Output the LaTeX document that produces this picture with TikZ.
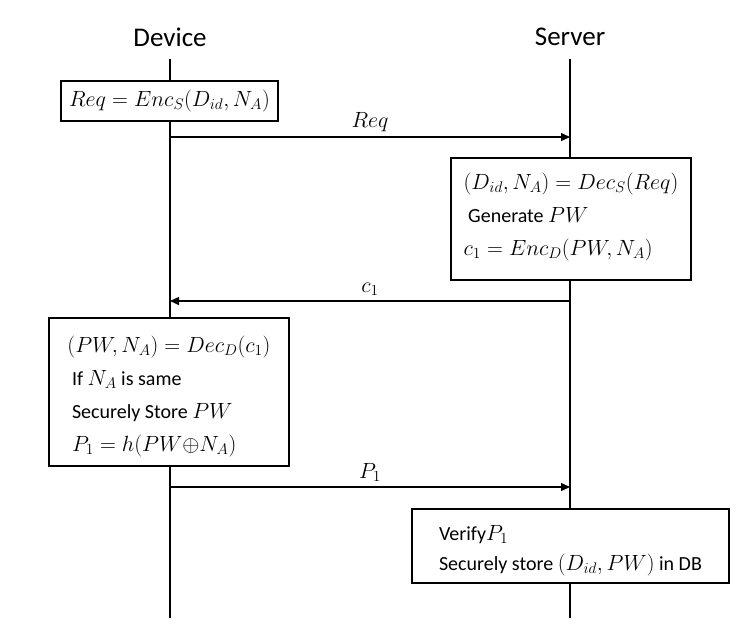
\RequirePackage{fix-cm}
\documentclass[tikz,border=0pt]{standalone}
\usepackage{fontspec}
\setmainfont{Carlito}
\usetikzlibrary{arrows.meta}
\newcommand\mth[1]{{\fontsize{22}{33}\selectfont$#1$}}
\begin{document}
\begin{tikzpicture}[x=1pt,y=-1pt,
  lifeline/.style={line width=2.6pt},
  msg/.style={line width=1.4pt,-{Triangle[length=9pt,width=8pt]}},
  stepbox/.style={draw,line width=1.2pt,fill=white,align=left,inner sep=0pt,font=\fontsize{20}{33}\selectfont},
  actor/.style={font=\fontsize{27}{30}\selectfont}]
\useasboundingbox (0,0) rectangle (749,638);
\node[actor] (dev) at (170,37) {Device};
\node[actor] (srv) at (570,37) {Server};
\coordinate (devtop) at (170,59); \coordinate (devbot) at (170,618);
\coordinate (srvtop) at (570,59); \coordinate (srvbot) at (570,618);
\draw[lifeline] (devtop) -- (devbot);
\draw[lifeline] (srvtop) -- (srvbot);
\node[stepbox,minimum width=217pt,minimum height=40pt] (encreq) at (169.5,101) {\mth{Req = Enc_S(D_{id},N_A)}};
\node[stepbox,minimum width=240pt,minimum height=122pt] (decreq) at (571,219) {\mth{(D_{id},N_A) = Dec_S(Req)}\\ \ Generate \mth{PW}\\ \mth{c_1 = Enc_D(PW,N_A)}\rule[-10pt]{0pt}{0pt}};
\node[stepbox,minimum width=240pt,minimum height=148pt] (decpw) at (169,392) {\rule{0pt}{25pt}\mth{(PW,N_A) = Dec_D(c_1)}\\ \ If \mth{N_A} is same\\ \ Securely Store \mth{PW}\\ \ \mth{P_1 = h(PW{\oplus}N_A)}};
\node[stepbox,minimum width=317pt,minimum height=74pt,font=\fontsize{20}{30}\selectfont] (verify) at (570.5,546) {\rule{0pt}{24pt}Verify\mth{P_1}\\ Securely store \mth{(D_{id},PW)} in DB};
\coordinate (d1) at (170,137); \coordinate (s1) at (570,137);
\coordinate (d2) at (170,301); \coordinate (s2) at (570,301);
\coordinate (d3) at (170,487); \coordinate (s3) at (570,487);
\draw[msg] (d1) -- node[above=1pt] (reqlbl) {\mth{Req}} (s1);
\draw[msg] (s2) -- node[above=1pt] (clbl) {\mth{c_1}} (d2);
\draw[msg] (d3) -- node[above=1pt] (plbl) {\mth{P_1}} (s3);
\end{tikzpicture}
\end{document}
